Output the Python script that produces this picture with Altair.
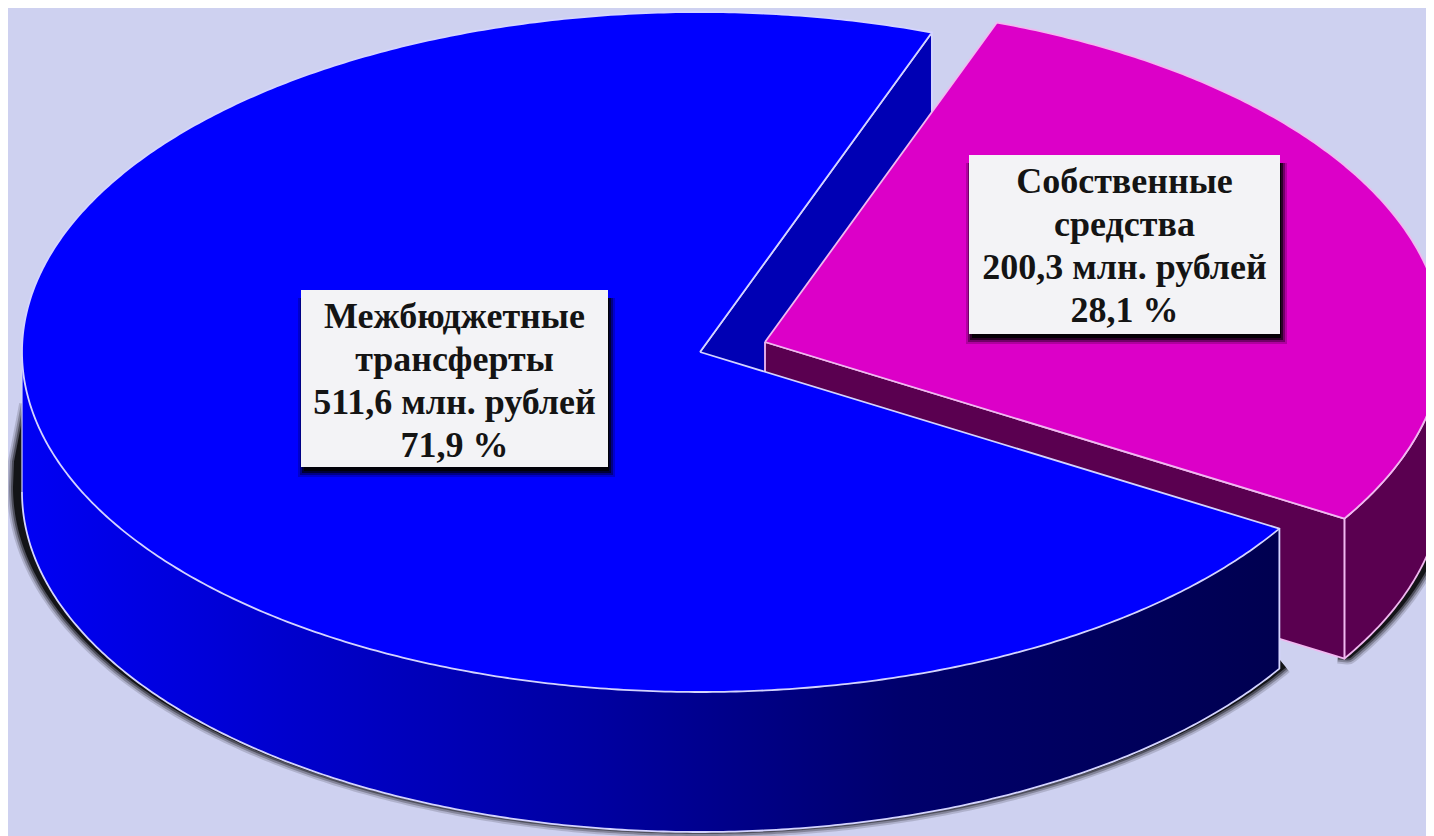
import math
import altair as alt
import pandas as pd

categories = ["Межбюджетные трансферты", "Собственные средства"]
values = [511.6, 200.3]
label_lines = [
    ["Межбюджетные", "трансферты", "511,6 млн. рублей", "71,9 %"],
    ["Собственные", "средства", "200,3 млн. рублей", "28,1 %"],
]

BG = "#CED1F0"
BLUE, BLUE_IN = "#0000FF", "#0000B4"
MAG, MAG_WALL = "#DC00C8", "#5A0050"
BLUE_EDGE, MAG_EDGE = "#D4D4FF", "#F0B8F0"
CX, CY, RX, RY, DEPTH = 700, 352, 678, 340, 140
OFF_X, OFF_Y = 65, -10
START = -70.0
sweep_mag = 360 * values[1] / sum(values)
END = START + sweep_mag

X = alt.X("x:Q", scale=alt.Scale(domain=[8, 1426], nice=False, zero=False), axis=None)
Y = alt.Y("y:Q", scale=alt.Scale(domain=[836, 8], nice=False, zero=False), axis=None)


def pt(t, dx=0, dy=0, rx=RX, ry=RY):
    r = math.radians(t)
    return (CX + dx + rx * math.cos(r), CY + dy + ry * math.sin(r))


def arc(t0, t1, **kw):
    n = max(2, int(abs(t1 - t0)) * 2)
    return [pt(t0 + (t1 - t0) * i / n, **kw) for i in range(n + 1)]


def frame(points):
    return pd.DataFrame({"x": [p[0] for p in points], "y": [p[1] for p in points], "i": range(len(points))})


def poly(points, fill, stroke=None, width=1.8):
    pts = points + [points[0]]
    kw = dict(fill=fill, clip=True, strokeJoin="round")
    kw.update(stroke=stroke or fill, strokeWidth=width)
    return alt.Chart(frame(pts)).mark_line(**kw).encode(x=X, y=Y, order="i:Q")


def line(points, stroke, width=1.8, opacity=1.0):
    return alt.Chart(frame(points)).mark_line(
        stroke=stroke, strokeWidth=width, opacity=opacity, clip=True, strokeJoin="round"
    ).encode(x=X, y=Y, order="i:Q")


def shade(points):
    return [line(points, "#000000", w, o) for w, o in [(22, 0.15), (18, 0.25), (14, 0.4), (10, 0.75)]]


layers = []

# soft shadows
blue_sh = arc(END, 180, dy=DEPTH - 5, rx=RX + 4) + [(CX - RX - 3, 462), (CX - RX + 8, 405)]
mag_sh = arc(-5, END, dx=OFF_X, dy=OFF_Y + DEPTH - 5, rx=RX + 4) + [pt(END, dx=OFF_X - 6, dy=OFF_Y + DEPTH - 6)]
layers += shade(blue_sh) + shade(mag_sh)

# blue cut wall behind the gap
a = pt(START)
layers.append(poly([(CX, CY), a, (a[0], a[1] + DEPTH), (CX, CY + DEPTH)], BLUE_IN, BLUE_EDGE))

# magenta walls and top
m0, m1 = pt(START, OFF_X, OFF_Y), pt(END, OFF_X, OFF_Y)
apex = (CX + OFF_X, CY + OFF_Y)
layers.append(poly(arc(END, -10, dx=OFF_X, dy=OFF_Y) + arc(-10, END, dx=OFF_X, dy=OFF_Y + DEPTH), MAG_WALL, MAG_EDGE))
layers.append(poly([apex, m1, (m1[0], m1[1] + DEPTH), (apex[0], apex[1] + DEPTH)], MAG_WALL, MAG_EDGE))
layers.append(poly([apex] + arc(START, END, dx=OFF_X, dy=OFF_Y), MAG, MAG_EDGE))

# blue outer wall with gradient
wall_pts = arc(180, END)
wall = pd.DataFrame({"x": [p[0] for p in wall_pts], "y": [p[1] for p in wall_pts],
                     "y2": [p[1] + DEPTH for p in wall_pts]})
grad = alt.Gradient(
    gradient="linear", x1=0, y1=0, x2=1, y2=0,
    stops=[
        alt.GradientStop(offset=0, color="#0000F4"),
        alt.GradientStop(offset=0.26, color="#0000C4"),
        alt.GradientStop(offset=0.46, color="#0000A0"),
        alt.GradientStop(offset=0.7, color="#00006C"),
        alt.GradientStop(offset=1, color="#000050"),
    ],
)
layers.append(alt.Chart(wall).mark_area(color=grad, clip=True).encode(x=X, y=Y, y2="y2:Q"))
layers.append(line(arc(180, END, dy=DEPTH) + [pt(END)], BLUE_EDGE))
layers.append(line([(CX - RX, CY + 18), (CX - RX, CY + DEPTH)], BLUE_EDGE, 1.2))

# blue top
layers.append(poly([(CX, CY)] + arc(END, START + 360), BLUE, BLUE_EDGE))

# label boxes
boxes = [(301, 608, 290, 467), (969, 1280, 155, 334)]
baselines = [[328, 371, 414, 457], [193, 236, 279, 322]]
for (x0, x1, y0, y1), lines, bases in zip(boxes, label_lines, baselines):
    for grow, op in [(7, 0.2), (5, 0.35), (3, 0.6), (1, 0.85)]:
        d = pd.DataFrame({"x": [x0 + 4 - grow], "x2": [x1 + grow], "y": [y0 + 8], "y2": [y1 + grow + 3]})
        layers.append(alt.Chart(d).mark_rect(color="#000000", opacity=op).encode(x=X, x2="x2:Q", y=Y, y2="y2:Q"))
    d = pd.DataFrame({"x": [x0], "x2": [x1], "y": [y0], "y2": [y1]})
    layers.append(alt.Chart(d).mark_rect(color="#F3F3F6").encode(x=X, x2="x2:Q", y=Y, y2="y2:Q"))
    t = pd.DataFrame({"x": [(x0 + x1) / 2] * len(lines), "y": bases, "label": lines})
    layers.append(alt.Chart(t).mark_text(
        font="Liberation Serif", fontWeight="bold", fontSize=36, color="#141414",
        baseline="alphabetic", align="center"
    ).encode(x=X, y=Y, text="label:N"))

chart = alt.layer(*layers).properties(
    width=1418, height=828, background=BG, padding=0,
    autosize=alt.AutoSizeParams(type="none"),
).configure_view(stroke=None)

chart.save("out.html", embed_options={"renderer": "svg", "actions": False})
